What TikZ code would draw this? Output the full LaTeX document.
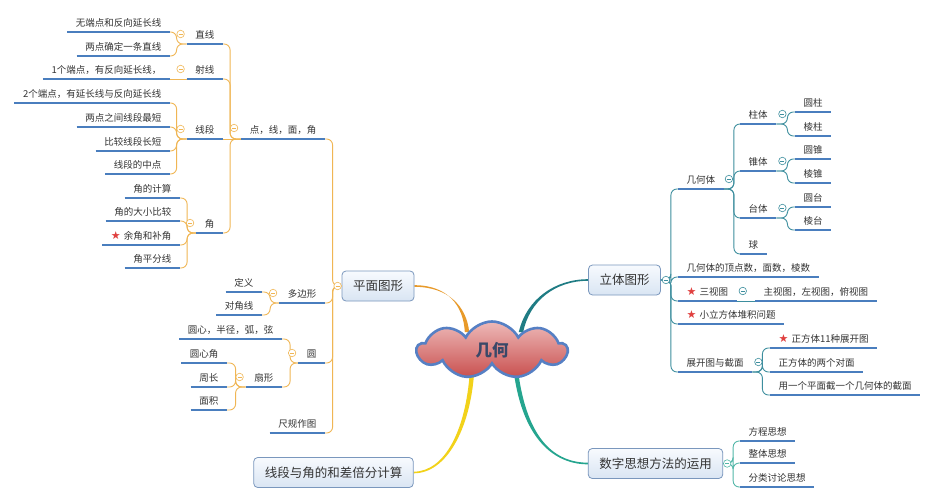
\documentclass[tikz,border=0pt]{standalone}
\usepackage{fontspec}
\setmainfont{Noto Sans CJK SC}
\newfontfamily\sym{DejaVu Sans}
\usetikzlibrary{shapes.symbols,shapes.geometric}
\definecolor{txt}{HTML}{333333}
\definecolor{ulc}{HTML}{4A7EBE}
\definecolor{lor}{HTML}{F0B654}
\definecolor{rte}{HTML}{3D8E9E}
\definecolor{rgr}{HTML}{52B7A8}
\definecolor{starc}{HTML}{E0403F}
\definecolor{boxb}{HTML}{7A97BD}
\definecolor{boxt}{HTML}{F7FAFE}
\definecolor{boxbt}{HTML}{D9E5F3}
\definecolor{cloudb}{HTML}{5680C4}
\definecolor{cloudt}{HTML}{EDB9B8}
\definecolor{cloudbt}{HTML}{C9504F}
\definecolor{roottxt}{HTML}{3A4868}
\definecolor{cor}{HTML}{E89A2A}
\definecolor{cye}{HTML}{F2D21A}
\definecolor{cte}{HTML}{1F7C84}
\definecolor{cgr}{HTML}{25A58F}
\pgfdeclarelayer{bg}\pgfdeclarelayer{mid}\pgfsetlayers{bg,mid,main}
\newcommand\stara{{\sym\color{starc}\fontsize{11}{11}\selectfont ★}\hspace{3pt}}
\tikzset{
 leaf/.style={font=\fontsize{9.5}{11}\selectfont, text=txt, inner xsep=8.5pt, inner ysep=3pt, text height=8pt, text depth=2pt},
 lw/.style={leaf, anchor=south east},
 rw/.style={leaf, anchor=south west},
 topbox/.style={draw=boxb, line width=0.8pt, rounded corners=4pt, top color=boxt, bottom color=boxbt, font=\fontsize{12.5}{14}\selectfont, text=txt, inner xsep=11pt, minimum height=30pt},
 uline/.style={ulc, line width=2.2pt},
 lcon/.style={lor, line width=0.9pt, rounded corners=6pt},
 rcon/.style={rte, line width=0.9pt, rounded corners=6pt},
 gcon/.style={rgr, line width=0.9pt, rounded corners=6pt},
 btn/.style={circle, draw=#1, fill=white, line width=0.6pt, inner sep=0pt, minimum size=7.5pt, path picture={\draw[#1, line width=0.6pt] ([xshift=-2pt]path picture bounding box.center) -- ([xshift=2pt]path picture bounding box.center);}},
}
\begin{document}
\begin{tikzpicture}[x=1pt,y=-1pt]
\begin{pgfonlayer}{bg}
\fill[white] (0,0) rectangle (934,500);
\end{pgfonlayer}
\useasboundingbox (0,0) rectangle (934,500);

% main boxes and root
\node[cloud, cloud puffs=9, cloud puff arc=125, aspect=2.6, minimum width=150pt, minimum height=57pt, draw=cloudb, line width=2.6pt, top color=cloudt, bottom color=cloudbt, text=roottxt, font=\fontsize{16.5}{20}\selectfont\bfseries] (root) at (492,350) {几何};
\node[topbox] (pm) at (378,286) {平面图形};
\node[topbox] (lt) at (624.5,280) {立体图形};
\node[topbox] (lx) at (333.5,472.5) {线段与角的和差倍分计算};
\node[topbox] (sz) at (655.5,463.5) {数字思想方法的运用};

\coordinate (c1) at ([shift={(-25,-18)}]root.center);
\coordinate (c2) at ([shift={(29,-18)}]root.center);
\coordinate (c3) at ([shift={(-20,22)}]root.center);
\coordinate (c4) at ([shift={(24,22)}]root.center);
\begin{pgfonlayer}{mid}
\fill[cor] ([shift={(0,-0.8)}]pm.east) .. controls (448,285.2) and (463.5,306) .. ([shift={(-2.2,0)}]c1) -- ([shift={(2.2,0)}]c1) .. controls (466.5,306) and (448,286.8) .. ([shift={(0,0.8)}]pm.east) -- cycle;
\fill[cte] ([shift={(0,-0.8)}]lt.west) .. controls (555,279.2) and (526.5,299) .. ([shift={(-2.2,0)}]c2) -- ([shift={(2.2,0)}]c2) .. controls (529.5,301) and (555,280.8) .. ([shift={(0,0.8)}]lt.west) -- cycle;
\fill[cye] ([shift={(-2.2,0)}]c3) .. controls (465.8,430) and (445,471.5) .. ([shift={(0,-0.8)}]lx.east) -- ([shift={(0,0.8)}]lx.east) .. controls (446,473.5) and (470.2,430) .. ([shift={(2.2,0)}]c3) -- cycle;
\fill[cgr] ([shift={(-2.2,0)}]c4) .. controls (522.8,440) and (555,464.5) .. ([shift={(0,0.8)}]sz.west) -- ([shift={(0,-0.8)}]sz.west) .. controls (555,462.5) and (527.2,440) .. ([shift={(2.2,0)}]c4) -- cycle;
\end{pgfonlayer}

% left tree
\node[lw] (dx) at (325,139) {点，线，面，角};
\node[lw] (zx) at (223,44) {直线};
\node[lw] (sx) at (223,79) {射线};
\node[lw] (xd) at (223,139) {线段};
\node[lw] (jiao) at (223,233) {角};
\node[lw] (zx1) at (170,32) {无端点和反向延长线};
\node[lw] (zx2) at (170,56) {两点确定一条直线};
\node[lw] (sx1) at (170,79) {1个端点，有反向延长线，};
\node[lw] (xd1) at (170,103) {2个端点，有延长线与反向延长线};
\node[lw] (xd2) at (170,127) {两点之间线段最短};
\node[lw] (xd3) at (170,151) {比较线段长短};
\node[lw] (xd4) at (170,174) {线段的中点};
\node[lw] (j1) at (180,198) {角的计算};
\node[lw] (j2) at (180,221) {角的大小比较};
\node[lw] (j3) at (180,245) {\stara 余角和补角};
\node[lw] (j4) at (180,268) {角平分线};
\node[lw] (dbx) at (325,303) {多边形};
\node[lw] (dy) at (262,292) {定义};
\node[lw] (djx) at (262,315) {对角线};
\node[lw] (yuan) at (325,363) {圆};
\node[lw] (y1) at (282,339) {圆心，半径，弧，弦};
\node[lw] (sh) at (282,387) {扇形};
\node[lw] (s1) at (227,363) {圆心角};
\node[lw] (s2) at (227,387) {周长};
\node[lw] (s3) at (227,410) {面积};
\node[lw] (cg) at (325,433) {尺规作图};

% right tree
\node[rw] (jht) at (678,189) {几何体};
\node[rw] (zt) at (740,124) {柱体};
\node[rw] (zt1) at (795,112) {圆柱};
\node[rw] (zt2) at (795,136) {棱柱};
\node[rw] (zh) at (740,171) {锥体};
\node[rw] (zh1) at (795,159) {圆锥};
\node[rw] (zh2) at (795,183) {棱锥};
\node[rw] (tt) at (740,218) {台体};
\node[rw] (tt1) at (795,207) {圆台};
\node[rw] (tt2) at (795,230) {棱台};
\node[rw] (qiu) at (740,254) {球};
\node[rw] (ds) at (678,277) {几何体的顶点数，面数，棱数};
\node[rw] (sst) at (678,301) {\stara 三视图};
\node[rw] (sst1) at (755,301) {主视图，左视图，俯视图};
\node[rw] (xlf) at (678,324) {\stara 小立方体堆积问题};
\node[rw] (zk) at (678,372) {展开图与截面};
\node[rw] (zk1) at (770,348) {\stara 正方体11种展开图};
\node[rw] (zk2) at (770,372) {正方体的两个对面};
\node[rw] (zk3) at (770,395) {用一个平面截一个几何体的截面};
\node[rw] (fc) at (740,441) {方程思想};
\node[rw] (zti) at (740,463) {整体思想};
\node[rw] (fl) at (740,487) {分类讨论思想};

% connectors left
\foreach \c in {dx,dbx,yuan,cg} \draw[lcon] (pm.west) -- ++(-9,0) |- (\c.south east);
\foreach \c in {zx,sx,jiao} \draw[lcon] (dx.south west) -- ++(-11,0) |- (\c.south east);
\draw[lcon] (dx.south west) -- (xd.south east);
\foreach \c in {zx1,zx2} \draw[lcon] (zx.south west) -- ++(-10,0) |- (\c.south east);
\draw[lcon] (sx.south west) -- (sx1.south east);
\foreach \c in {xd1,xd2,xd3,xd4} \draw[lcon] (xd.south west) -- ++(-10,0) |- (\c.south east);
\foreach \c in {j1,j2,j3,j4} \draw[lcon] (jiao.south west) -- ++(-9,0) |- (\c.south east);
\foreach \c in {dy,djx} \draw[lcon] (dbx.south west) -- ++(-9,0) |- (\c.south east);
\foreach \c in {y1,sh} \draw[lcon] (yuan.south west) -- ++(-8,0) |- (\c.south east);
\foreach \c in {s1,s2,s3} \draw[lcon] (sh.south west) -- ++(-10,0) |- (\c.south east);

% connectors right
\foreach \c in {jht,ds,sst,xlf,zk} \draw[rcon] (lt.east) -- ++(10,0) |- (\c.south west);
\foreach \c in {zt,zh,tt,qiu} \draw[rcon] (jht.south east) -- ++(10,0) |- (\c.south west);
\foreach \c in {zt1,zt2} \draw[rcon] (zt.south east) -- ++(11,0) |- (\c.south west);
\foreach \c in {zh1,zh2} \draw[rcon] (zh.south east) -- ++(11,0) |- (\c.south west);
\foreach \c in {tt1,tt2} \draw[rcon] (tt.south east) -- ++(11,0) |- (\c.south west);
\draw[rcon] (sst.south east) -- (sst1.south west);
\foreach \c in {zk1,zk2,zk3} \draw[rcon] (zk.south east) -- ++(10,0) |- (\c.south west);
\foreach \c in {fc,zti,fl} \draw[gcon] (sz.east) -- ++(10,0) |- (\c.south west);

% underlines
\foreach \n in {dx,zx,sx,xd,jiao,zx1,zx2,sx1,xd1,xd2,xd3,xd4,j1,j2,j3,j4,dbx,dy,djx,yuan,y1,sh,s1,s2,s3,cg,
  jht,zt,zt1,zt2,zh,zh1,zh2,tt,tt1,tt2,qiu,ds,sst,sst1,xlf,zk,zk1,zk2,zk3,fc,zti,fl}
  \draw[uline] (\n.south west) -- (\n.south east);

% collapse buttons
\node[btn=lor] (bpm) at ([xshift=-4pt]pm.west) {};
\node[btn=lor] (bdx) at ([shift={(-7,-11)}]dx.south west) {};
\node[btn=lor] (bzx) at ([shift={(-6,-10)}]zx.south west) {};
\node[btn=lor] (bsx) at ([shift={(-6,-10)}]sx.south west) {};
\node[btn=lor] (bxd) at ([shift={(-6,-10)}]xd.south west) {};
\node[btn=lor] (bjiao) at ([shift={(-6,-10)}]jiao.south west) {};
\node[btn=lor] (bdbx) at ([shift={(-6,-10)}]dbx.south west) {};
\node[btn=lor] (byuan) at ([shift={(-6,-10)}]yuan.south west) {};
\node[btn=lor] (bsh) at ([shift={(-6,-10)}]sh.south west) {};
\node[btn=rte] (blt) at ([xshift=5pt]lt.east) {};
\node[btn=rte] (bjht) at ([shift={(5,-10)}]jht.south east) {};
\node[btn=rte] (bzt) at ([shift={(6,-10)}]zt.south east) {};
\node[btn=rte] (bzh) at ([shift={(6,-10)}]zh.south east) {};
\node[btn=rte] (btt) at ([shift={(6,-10)}]tt.south east) {};
\node[btn=rte] (bsst) at ([shift={(6,-10)}]sst.south east) {};
\node[btn=rte] (bzk) at ([shift={(6,-10)}]zk.south east) {};
\node[btn=rgr] (bsz) at ([xshift=4pt]sz.east) {};
\end{tikzpicture}
\end{document}
